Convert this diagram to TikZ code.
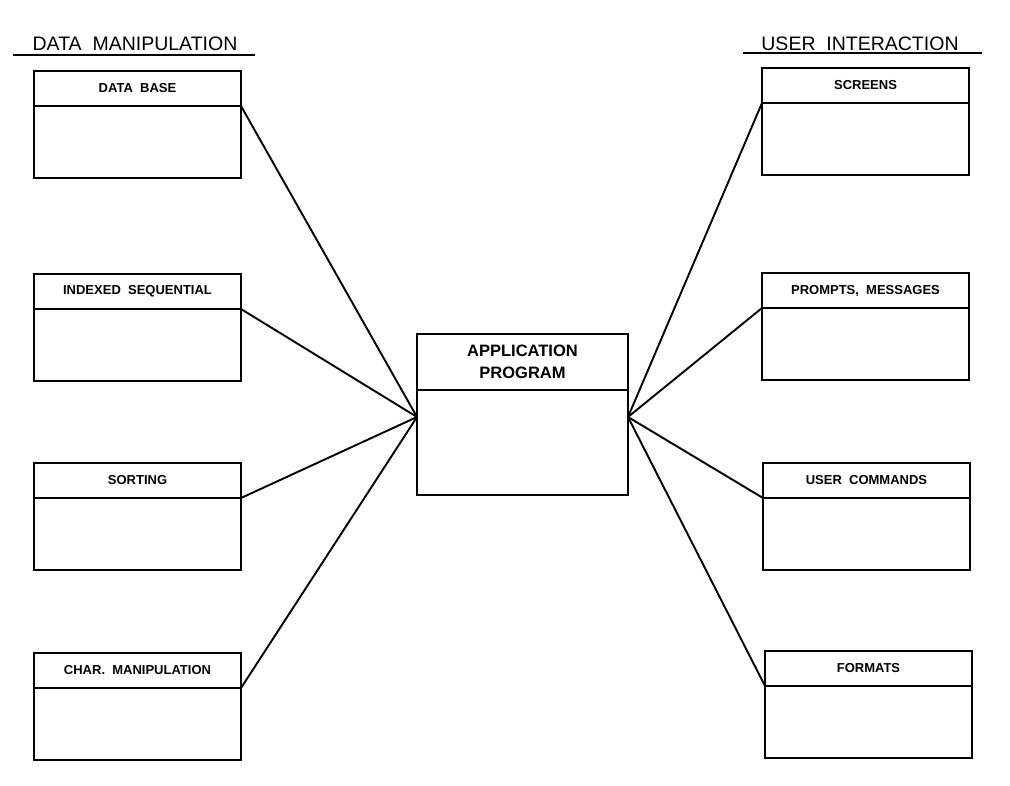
\documentclass[tikz,border=0pt]{standalone}
\usepackage{fontspec}
\setsansfont{Liberation Sans}
\usepackage{tikz}
\usetikzlibrary{positioning}

\tikzset{
	boxhead/.style={draw, line width=2.2pt, outer sep=0pt, inner sep=0pt, minimum width=207pt, minimum height=35pt, font=\sffamily\bfseries\fontsize{13}{15}\selectfont},
	boxbody/.style={draw, line width=2.2pt, outer sep=0pt, minimum width=207pt, minimum height=72pt},
	title/.style={anchor=base, inner sep=0pt, font=\sffamily\fontsize{19.5}{22}\selectfont},
	link/.style={line width=1.9pt}
}

\begin{document}
\begin{tikzpicture}[x=1pt,y=-1pt]
\useasboundingbox (0,0) rectangle (1010,785);

\def\MODBOX(#1)#2#3{%
	\node[boxhead, anchor=north west] (#2) at (#1) {#3}; % header of the module
	\node[boxbody, below=0pt of #2] (#2 body) {}; % empty body
}

% Column titles
\node[title] (dm) at (135,50) {DATA\ \ MANIPULATION};
\draw[line width=2.2pt] (13,55) -- (255,55);
\node[title] (ui) at (860,50) {USER\ \ INTERACTION};
\draw[line width=2.2pt] (743,53) -- (982,53);

% Left column
\MODBOX(34,71){db}{DATA\ \ BASE}
\MODBOX(34,274){iseq}{INDEXED\ \ SEQUENTIAL}
\MODBOX(34,463){sort}{SORTING}
\MODBOX(34,653){char}{CHAR.\ \ MANIPULATION}

% Right column
\MODBOX(762,68){scr}{SCREENS}
\MODBOX(762,273){msg}{PROMPTS,\ \ MESSAGES}
\MODBOX(763,463){cmd}{USER\ \ COMMANDS}
\MODBOX(765,651){fmt}{FORMATS}

% Application program in the middle
\node[boxhead, minimum width=211pt, minimum height=56pt, align=center,
	font=\sffamily\bfseries\fontsize{16.5}{22}\selectfont, anchor=north west] (app) at (417,334) {APPLICATION\\PROGRAM};
\node[boxbody, minimum width=211pt, minimum height=105pt, below=0pt of app] (app body) {};
\coordinate (hubL) at ([yshift=-27pt]app body.north west);
\coordinate (hubR) at ([yshift=-27pt]app body.north east);

% Links
\foreach \m in {db,iseq,sort,char}
	\draw[link] (\m.south east) -- (hubL);
\foreach \m in {scr,msg,cmd,fmt}
	\draw[link] (\m.south west) -- (hubR);
\end{tikzpicture}
\end{document}
